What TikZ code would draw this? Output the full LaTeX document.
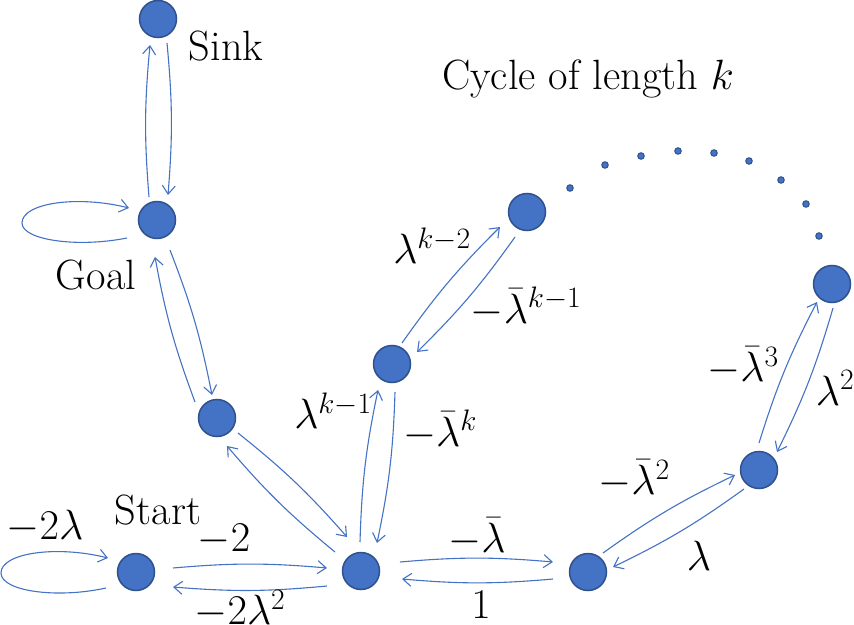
\RequirePackage{fix-cm}
\documentclass[tikz,border=0pt]{standalone}
\usetikzlibrary{arrows.meta}
\definecolor{edgeblue}{HTML}{4472C4}
\definecolor{nodefill}{HTML}{4472C4}
\definecolor{nodeline}{HTML}{2F528F}
\begin{document}
\begin{tikzpicture}[x=1bp,y=-1bp,
  state/.style={circle, fill=nodefill, draw=nodeline, line width=1.5bp, minimum size=37bp, inner sep=0pt},
  dotnode/.style={circle, fill=nodefill, draw=nodeline, line width=1bp, minimum size=6.5bp, inner sep=0pt},
  arr/.style={draw=edgeblue, line width=1.1bp, -{Straight Barb[length=8.5bp,width=13bp]}, bend left=5},
  loopline/.style={draw=edgeblue, line width=1.1bp, -{Straight Barb[length=8.5bp,width=13bp]}},
  lab/.style={font=\fontsize{42.5}{50}\selectfont, inner sep=0pt},
]
\useasboundingbox (0,0) rectangle (854,625);

% states
\node[state] (Sk) at (158,19) {};
\node[state] (G)  at (157,220) {};
\node[state] (A)  at (217,418) {};
\node[state] (St) at (136,572) {};
\node[state] (Ce) at (361,571) {};
\node[state] (B)  at (392,364) {};
\node[state] (C)  at (527,212) {};
\node[state] (D)  at (588,572) {};
\node[state] (E)  at (759,470) {};
\node[state] (F)  at (832,284) {};

% dots of the cycle
\node[dotnode] (d1) at (570,188) {};
\node[dotnode] (d2) at (605,165) {};
\node[dotnode] (d3) at (641,156) {};
\node[dotnode] (d4) at (678,151) {};
\node[dotnode] (d5) at (714,153) {};
\node[dotnode] (d6) at (749,161) {};
\node[dotnode] (d7) at (781,180) {};
\node[dotnode] (d8) at (806,204) {};
\node[dotnode] (d9) at (819,236) {};

% edges
\draw[arr] ([shift={(-8,-23)}]G.center) to ([shift={(-8,26)}]Sk.center);
\draw[arr] ([shift={(9,24)}]Sk.center) to ([shift={(11,-25)}]G.center);

\draw[arr] ([shift={(13,30)}]G.center) to ([shift={(-5,-23)}]A.center);
\draw[arr] ([shift={(-22,-16)}]A.center) to ([shift={(-2,37)}]G.center);

\draw[arr] ([shift={(21,15)}]A.center) to ([shift={(-14,-34)}]Ce.center);
\draw[arr] ([shift={(-26,-19)}]Ce.center) to ([shift={(10,28)}]A.center);

\draw[arr] ([shift={(37,-4)}]St.center) to ([shift={(-34,-3)}]Ce.center);
\draw[arr] ([shift={(-34,15)}]Ce.center) to ([shift={(37,15)}]St.center);

\draw[arr] ([shift={(-1,-29)}]Ce.center) to ([shift={(-14,26)}]B.center);
\draw[arr] ([shift={(3,28)}]B.center) to ([shift={(16,-28)}]Ce.center);

\draw[arr] ([shift={(10,-21)}]B.center) to ([shift={(-27,15)}]C.center);
\draw[arr] ([shift={(-12,25)}]C.center) to ([shift={(25,-12)}]B.center);

\draw[arr] ([shift={(39,-9)}]Ce.center) to ([shift={(-35,-10)}]D.center);
\draw[arr] ([shift={(-35,7)}]D.center) to ([shift={(41,8)}]Ce.center);

\draw[arr] ([shift={(15,-19)}]D.center) to ([shift={(-24,5)}]E.center);
\draw[arr] ([shift={(-15,19)}]E.center) to ([shift={(25,-5)}]D.center);

\draw[arr] ([shift={(0,-27)}]E.center) to ([shift={(-15,18)}]F.center);
\draw[arr] ([shift={(1,24)}]F.center) to ([shift={(18,-18)}]E.center);

% self loops
\draw[loopline] ([shift={(-30,18)}]G.center)
   .. controls ([shift={(-80,28)}]G.center) and ([shift={(-135,20)}]G.center) .. ([shift={(-135,3)}]G.center)
   .. controls ([shift={(-135,-17)}]G.center) and ([shift={(-80,-25)}]G.center) .. ([shift={(-28,-12)}]G.center);
\draw[loopline] ([shift={(-30,16)}]St.center)
   .. controls ([shift={(-80,27)}]St.center) and ([shift={(-135,19)}]St.center) .. ([shift={(-135,1)}]St.center)
   .. controls ([shift={(-135,-19)}]St.center) and ([shift={(-80,-27)}]St.center) .. ([shift={(-28,-14)}]St.center);

% labels
\node[lab] (lSink)  at (226,46) {Sink};
\node[lab] (lGoal)  at (96,275) {Goal};
\node[lab] (lStart) at (158,510) {Start};
\node[lab] (lCycle) at (588,79) {Cycle of length $k$};

\node[lab] (e1) at (45,527) {$-2\lambda$};
\node[lab] (e2) at (224,540) {$-2$};
\node[lab] (e3) at (240,609) {$-2\lambda^2$};
\node[lab] (e4) at (333,411) {$\lambda^{k-1}$};
\node[lab] (e5) at (440,430) {$-\bar{\lambda}^{k}$};
\node[lab] (e6) at (432,246) {$\lambda^{k-2}$};
\node[lab] (e7) at (526,307) {$-\bar{\lambda}^{k-1}$};
\node[lab] (e8) at (477,537) {$-\bar{\lambda}$};
\node[lab] (e9) at (481,605) {$1$};
\node[lab] (e10) at (634,479) {$-\bar{\lambda}^{2}$};
\node[lab] (e11) at (699,556) {$\lambda$};
\node[lab] (e12) at (743,366) {$-\bar{\lambda}^{3}$};
\node[lab] (e13) at (835,388) {$\lambda^{2}$};
\end{tikzpicture}
\end{document}
